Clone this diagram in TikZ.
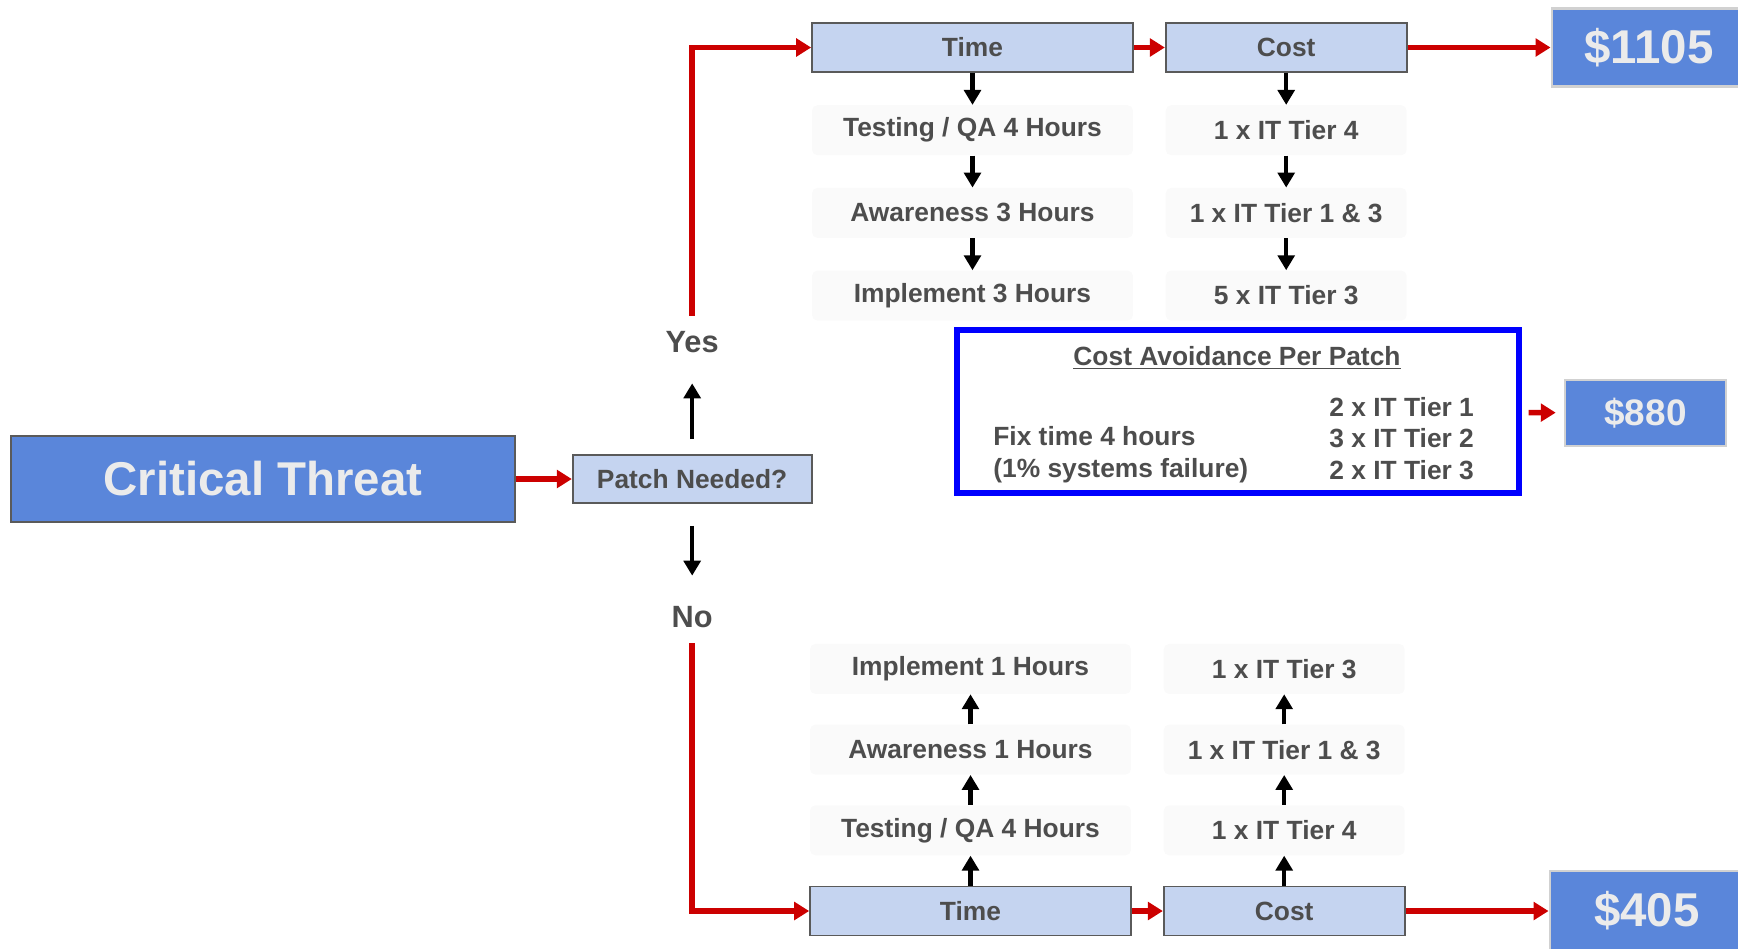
\documentclass[tikz,border=0pt]{standalone}
\usepackage{fontspec}
\setmainfont{Liberation Sans}
\usetikzlibrary{arrows.meta, positioning}

\definecolor{darkblue}{RGB}{90,134,218}
\definecolor{lightblue}{RGB}{197,212,240}
\definecolor{arrowred}{RGB}{204,0,0}
\definecolor{textgray}{RGB}{77,77,77}
\definecolor{framegray}{RGB}{90,90,90}

\begin{document}
\begin{tikzpicture}[
  x=0.02cm, y=-0.02cm,
  box/.style={rectangle, draw=framegray, line width=1pt, fill=lightblue, text=textgray, font=\fontsize{15}{18}\selectfont\bfseries, minimum height=0.98cm, inner sep=0pt},
  bigbox/.style={rectangle, draw=framegray, line width=1pt, fill=darkblue, text=white!92!black, font=\fontsize{27}{32}\selectfont\bfseries, inner sep=0pt},
  costbox/.style={rectangle, draw=black!18, line width=1.5pt, fill=darkblue, text=white!92!black, font=\fontsize{27}{32}\selectfont\bfseries, inner sep=0pt},
  stepbox/.style={rectangle, rounded corners=3pt, fill=black!2, text=textgray, font=\fontsize{15}{18}\selectfont\bfseries, minimum height=1cm, inner sep=0pt},
  note/.style={text=textgray, font=\fontsize{15}{18}\selectfont\bfseries, inner sep=0pt},
  answer/.style={text=textgray, font=\fontsize{17.5}{21}\selectfont\bfseries, inner sep=3pt},
  redarrow/.style={-{Triangle[length=8.5pt,width=10pt]}, draw=arrowred, line width=3.2pt},
  blackarrow/.style={-{Triangle[length=8.5pt,width=9.5pt]}, line width=2.6pt}
]
\useasboundingbox (0,0) rectangle (1738,948);

% Threat and decision
\node[bigbox, minimum width=10.08cm, minimum height=1.72cm] (threat) at (263,479) {Critical Threat};
\node[box, minimum width=4.78cm, minimum height=0.96cm, right=1.12cm of threat] (patch) {Patch Needed?};
\node[answer] (yes) at (patch |- 0,342) {Yes};
\node[answer] (no) at (patch |- 0,617) {No};

\draw[redarrow] (threat) -- (patch);
\draw[blackarrow, shorten <=0.3cm, shorten >=0.5cm] (patch) -- (yes);
\draw[blackarrow, shorten <=0.44cm, shorten >=0.5cm] (patch) -- (no);

% Yes branch
\node[box, minimum width=6.42cm] (yt0) at (972.5,47.5) {Time};
\node[box, minimum width=4.82cm, right=0.62cm of yt0] (yc0) {Cost};
\node[costbox, minimum width=3.88cm, minimum height=1.56cm, right=2.86cm of yc0] (ytotal) {\$1105};

\node[stepbox, minimum width=6.42cm, below=0.64cm of yt0] (yt1) {Testing / QA 4 Hours};
\node[stepbox, minimum width=6.42cm, below=0.64cm of yt1] (yt2) {Awareness 3 Hours};
\node[stepbox, minimum width=6.42cm, below=0.64cm of yt2] (yt3) {Implement 3 Hours};
\node[stepbox, minimum width=4.82cm, below=0.64cm of yc0] (yc1) {1 x IT Tier 4};
\node[stepbox, minimum width=4.82cm, below=0.64cm of yc1] (yc2) {1 x IT Tier 1 \& 3};
\node[stepbox, minimum width=4.82cm, below=0.64cm of yc2] (yc3) {5 x IT Tier 3};

\draw[redarrow, shorten <=0.2cm] (yes) |- (yt0);
\draw[redarrow] (yt0) -- (yc0);
\draw[redarrow] (yc0) -- (ytotal);

\foreach \col in {t, c} {
  \foreach \i/\j in {0/1, 1/2, 2/3} {
    \draw[blackarrow] (y\col\i) -- (y\col\j);
  }
}

% No branch
\node[box, minimum width=6.42cm] (nt0) at (970.5,911) {Time};
\node[box, minimum width=4.82cm, right=0.62cm of nt0] (nc0) {Cost};
\node[costbox, minimum width=3.88cm, minimum height=1.6cm, right=2.86cm of nc0] (ntotal) {\$405};

\node[stepbox, minimum width=6.42cm, above=0.6cm of nt0] (nt1) {Testing / QA 4 Hours};
\node[stepbox, minimum width=6.42cm, above=0.6cm of nt1] (nt2) {Awareness 1 Hours};
\node[stepbox, minimum width=6.42cm, above=0.6cm of nt2] (nt3) {Implement 1 Hours};
\node[stepbox, minimum width=4.82cm, above=0.6cm of nc0] (nc1) {1 x IT Tier 4};
\node[stepbox, minimum width=4.82cm, above=0.6cm of nc1] (nc2) {1 x IT Tier 1 \& 3};
\node[stepbox, minimum width=4.82cm, above=0.6cm of nc2] (nc3) {1 x IT Tier 3};

\draw[redarrow, shorten <=0.2cm] (no) |- (nt0);
\draw[redarrow] (nt0) -- (nc0);
\draw[redarrow] (nc0) -- (ntotal);

\foreach \col in {t, c} {
  \foreach \i/\j in {0/1, 1/2, 2/3} {
    \draw[blackarrow] (n\col\i) -- (n\col\j);
  }
}

% Cost avoidance
\node[draw=blue, line width=3pt, minimum width=11.24cm, minimum height=3.26cm, inner sep=0pt] (avoid) at (1238,411.5) {};
\node[note] (avtitle) at (1237,358) {\underline{Cost Avoidance Per Patch}};
\node[note, align=left, anchor=west] (avstaff) at (1329,438.5) {2 x IT Tier 1\\3 x IT Tier 2\\2 x IT Tier 3};
\node[note, align=left, anchor=west] (avfix) at (993,454.5) {Fix time 4 hours\\(1\% systems failure)};
\node[costbox, font=\fontsize{21}{25}\selectfont\bfseries, minimum width=3.22cm, minimum height=1.32cm] (avtotal) at (1645.5,413) {\$880};
\draw[redarrow, shorten <=0.14cm, shorten >=0.16cm] (avoid) -- (avtotal);

\end{tikzpicture}
\end{document}
